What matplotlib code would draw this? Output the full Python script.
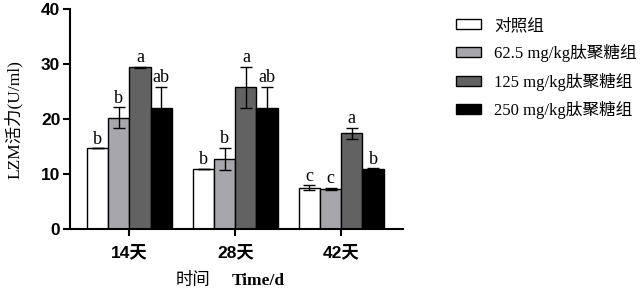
import numpy as np
import matplotlib.pyplot as plt
from matplotlib.patches import Patch

## Data
days = ['14天', '28天', '42天']
groups = ['对照组', '62.5 mg/kg肽聚糖组', '125 mg/kg肽聚糖组', '250 mg/kg肽聚糖组']
means = [
    [14.7, 11.0, 7.6],    # control
    [20.3, 12.8, 7.3],    # 62.5
    [29.5, 25.8, 17.45],  # 125
    [22.1, 22.1, 10.9],   # 250
]
errs = [
    [0.0, 0.0, 0.4],
    [1.9, 2.0, 0.2],
    [0.1, 3.7, 1.0],
    [3.8, 3.8, 0.2],
]
letters = [
    ['b', 'b', 'c'],
    ['b', 'b', 'c'],
    ['a', 'a', 'a'],
    ['ab', 'ab', 'b'],
]
colors = ['#ffffff', '#a7a7ab', '#626262', '#000000']

serif = ['Liberation Serif', 'Noto Sans CJK SC']
sans = ['Liberation Sans', 'Noto Sans CJK SC']

## Figure
fig = plt.figure(figsize=(6.44, 2.88), dpi=100)
ax = fig.add_axes([0.1087, 0.2038, 0.5166, 0.7639])

x = np.arange(len(days))
w = 0.2
for i in range(len(groups)):
    pos = x + (i - 1.5) * w
    ax.bar(pos, means[i], width=w, color=colors[i], edgecolor='black',
           linewidth=1.0, zorder=2)
    ax.errorbar(pos, means[i], yerr=errs[i], fmt='none', ecolor='black',
                elinewidth=1.0, capsize=4.3, capthick=1.0, zorder=3)
    for j in range(len(days)):
        ax.annotate(letters[i][j], (pos[j], means[i][j] + errs[i][j]),
                    xytext=(0, 0.5), textcoords='offset points',
                    ha='center', va='bottom', fontsize=13, family=serif)

ax.set_xlim(-0.56, 2.58)
ax.set_ylim(0, 40)
ax.set_yticks([0, 10, 20, 30, 40])
ax.set_xticks(x)
ax.set_xticklabels(days)
for lab in ax.get_xticklabels() + ax.get_yticklabels():
    lab.set_family(sans)
    lab.set_fontweight('bold')
    lab.set_fontsize(12.5)

for s in ['top', 'right']:
    ax.spines[s].set_visible(False)
for s in ['left', 'bottom']:
    ax.spines[s].set_linewidth(1.5)
ax.tick_params(axis='both', width=1.5, length=5, direction='out', pad=2)
ax.tick_params(axis='x', pad=6)

ax.set_ylabel('LZM活力(U/ml)', fontsize=12.5, family=serif, labelpad=13)

# x label: Chinese part regular, English part bold
fig.text(0.327, 0.012, '时间', fontsize=12.5, family=serif,
         ha='right', va='baseline')
fig.text(0.360, 0.012, 'Time/d', fontsize=12.5, family=serif,
         fontweight='bold', ha='left', va='baseline')

handles = [Patch(facecolor=c, edgecolor='black', linewidth=1.0) for c in colors]
fig.legend(handles, groups, loc='upper left', bbox_to_anchor=(0.685, 0.99),
           frameon=False, prop={'family': serif, 'size': 12},
           handlelength=1.5, handleheight=0.55, labelspacing=0.62,
           handletextpad=0.8)

fig.savefig('out.png', dpi=100)
